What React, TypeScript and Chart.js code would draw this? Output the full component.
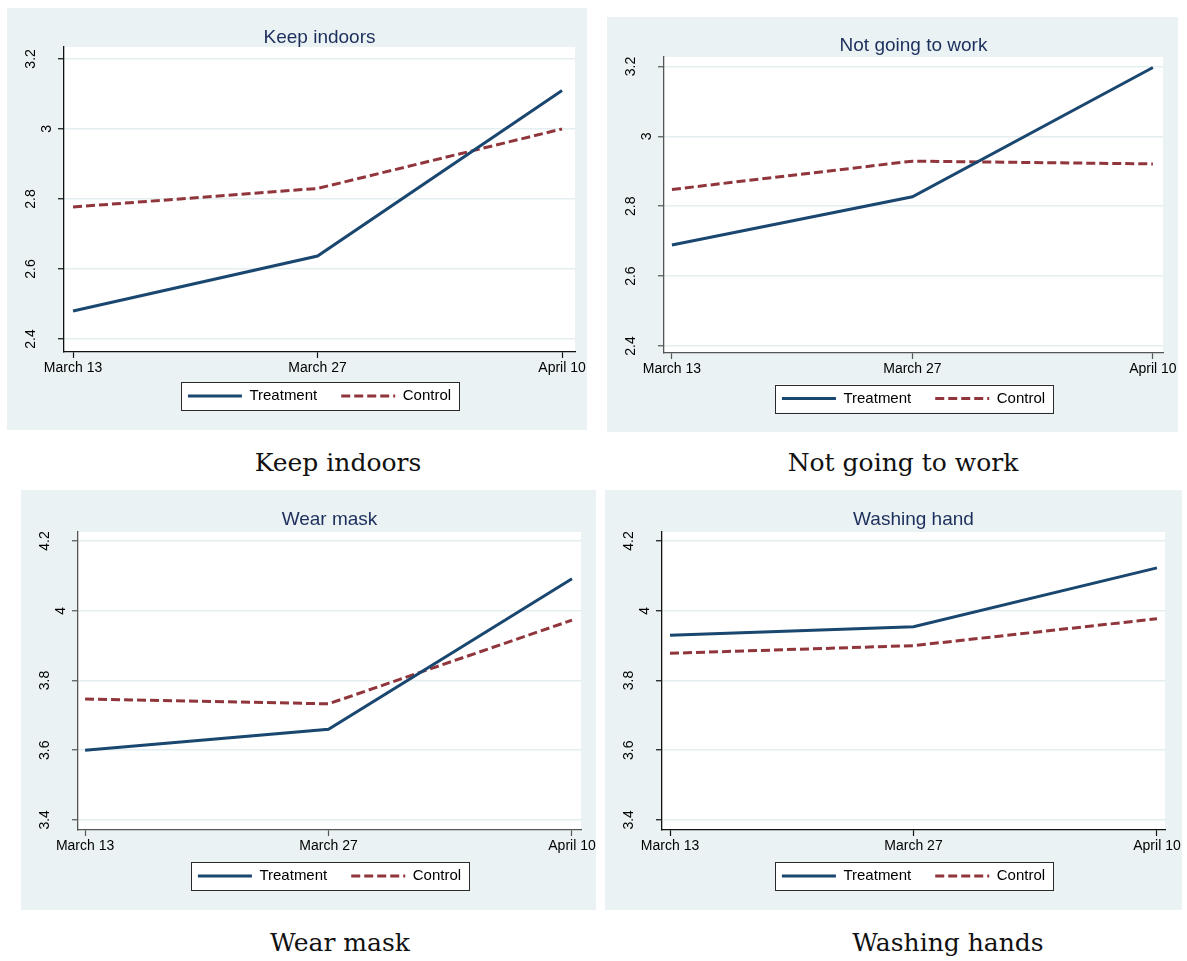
import React, { useEffect, useRef } from 'react';
import { Chart, registerables } from 'chart.js';

Chart.register(...registerables);

// ---------- data ----------
const dateLabels = ['March 13', 'March 27', 'April 10'];
const datePositions = [0, 1, 2];
const seriesNames = ['Treatment', 'Control'];

const keepIndoorsTreatment = [2.48, 2.637, 3.11];
const keepIndoorsControl = [2.777, 2.83, 3.0];
const notWorkTreatment = [2.689, 2.827, 3.197];
const notWorkControl = [2.848, 2.929, 2.921];
const wearMaskTreatment = [3.6, 3.66, 4.092];
const wearMaskControl = [3.747, 3.733, 3.973];
const washHandTreatment = [3.93, 3.954, 4.123];
const washHandControl = [3.878, 3.9, 3.977];

const yTicksUpper = [2.4, 2.6, 2.8, 3.0, 3.2];
const yTickLabelsUpper = ['2.4', '2.6', '2.8', '3', '3.2'];
const yTicksLower = [3.4, 3.6, 3.8, 4.0, 4.2];
const yTickLabelsLower = ['3.4', '3.6', '3.8', '4', '4.2'];

const panelTitles = ['Keep indoors', 'Not going to work', 'Wear mask', 'Washing hand'];
const captionTexts = ['Keep indoors', 'Not going to work', 'Wear mask', 'Washing hands'];

// ---------- styles ----------
const NAVY = '#1a476f';
const MAROON = '#90353b';
const PANEL_BG = '#eaf2f3';
const GRID = '#e4edef';
const TITLE_COLOR = '#1c2f5c';
const SANS = '"Liberation Sans", Arial, sans-serif';
const SERIF = '"DejaVu Serif", serif';
const TITLE_SIZE = 19;
const TICK_SIZE = 14;
const LEGEND_SIZE = 15;
const LEGEND_PAD = 24;
const XAXIS_H = 26;

type Layout = {
  bg: { x: number; y: number; w: number; h: number };
  extraRight: number;
  plot: { l: number; t: number; r: number; b: number };
  titleY: number;
  legendY: number;
  xRange: [number, number];
  yRange: [number, number];
  axisColor: string;
  caption: { x: number; y: number };
};

const layouts: Layout[] = [
  {
    bg: { x: 7, y: 8, w: 580, h: 422 }, extraRight: 10,
    plot: { l: 64, t: 47, r: 575, b: 352 }, titleY: 37.5, legendY: 396,
    xRange: [-0.037, 2.053], yRange: [2.363, 3.234], axisColor: '#111',
    caption: { x: 338, y: 462 },
  },
  {
    bg: { x: 607, y: 17, w: 571, h: 415 }, extraRight: 9,
    plot: { l: 664, t: 57, r: 1163, b: 353 }, titleY: 45.5, legendY: 398.5,
    xRange: [-0.033, 2.042], yRange: [2.38, 3.227], axisColor: '#555',
    caption: { x: 903, y: 462 },
  },
  {
    bg: { x: 21, y: 490, w: 575, h: 420 }, extraRight: 10,
    plot: { l: 78, t: 532, r: 581, b: 830 }, titleY: 519.5, legendY: 876,
    xRange: [-0.029, 2.037], yRange: [3.371, 4.226], axisColor: '#555',
    caption: { x: 340, y: 942 },
  },
  {
    bg: { x: 605, y: 490, w: 577, h: 420 }, extraRight: 5,
    plot: { l: 662, t: 532, r: 1165, b: 830 }, titleY: 519.5, legendY: 876,
    xRange: [-0.033, 2.033], yRange: [3.371, 4.226], axisColor: '#111',
    caption: { x: 948, y: 942 },
  },
];

type PanelData = {
  title: string;
  treatment: number[];
  control: number[];
  yTicks: number[];
  yTickLabels: string[];
};

const panelData: PanelData[] = [
  { title: panelTitles[0], treatment: keepIndoorsTreatment, control: keepIndoorsControl, yTicks: yTicksUpper, yTickLabels: yTickLabelsUpper },
  { title: panelTitles[1], treatment: notWorkTreatment, control: notWorkControl, yTicks: yTicksUpper, yTickLabels: yTickLabelsUpper },
  { title: panelTitles[2], treatment: wearMaskTreatment, control: wearMaskControl, yTicks: yTicksLower, yTickLabels: yTickLabelsLower },
  { title: panelTitles[3], treatment: washHandTreatment, control: washHandControl, yTicks: yTicksLower, yTickLabels: yTickLabelsLower },
];

function Panel({ data, layout }: { data: PanelData; layout: Layout }) {
  const ref = useRef<HTMLCanvasElement | null>(null);
  const L = layout;
  const cw = L.bg.w + L.extraRight;
  const ch = L.bg.h;

  useEffect(() => {
    if (!ref.current) return;
    const plotL = L.plot.l - L.bg.x;
    const plotR = L.plot.r - L.bg.x;
    const plotT = L.plot.t - L.bg.y;
    const plotB = L.plot.b - L.bg.y;
    const titleY = L.titleY - L.bg.y;
    const legY = L.legendY - L.bg.y;
    const titleLH = TITLE_SIZE * 1.2;
    const legendTop = legY - LEGEND_SIZE / 2 - LEGEND_PAD;
    const legendHeight = LEGEND_SIZE + LEGEND_PAD + 10;

    const panelPlugin = {
      id: 'panelDecor',
      afterLayout(chart: any) {
        const lg = chart.legend;
        if (lg) {
          const h = lg.height;
          lg.top = legendTop;
          lg.bottom = legendTop + h;
        }
      },
      beforeDraw(chart: any) {
        const ctx = chart.ctx;
        const ca = chart.chartArea;
        ctx.save();
        ctx.fillStyle = PANEL_BG;
        ctx.fillRect(0, 0, L.bg.w, L.bg.h);
        ctx.fillStyle = '#ffffff';
        ctx.fillRect(ca.left, ca.top, ca.right - ca.left, ca.bottom - ca.top);
        const hb = chart.legend && chart.legend.legendHitBoxes;
        if (hb && hb.length) {
          const first = hb[0];
          const last = hb[hb.length - 1];
          const left = first.left - 7;
          const right = last.left + last.width + 8;
          const cy = legY;
          const top = cy - 14;
          ctx.fillStyle = '#ffffff';
          ctx.fillRect(left, top, right - left, 28);
          ctx.strokeStyle = '#2a2a2a';
          ctx.lineWidth = 1;
          ctx.strokeRect(Math.round(left) + 0.5, Math.round(top) + 0.5, Math.round(right - left), 28);
        }
        ctx.restore();
      },
      afterDraw(chart: any) {
        const ctx = chart.ctx;
        const ys = chart.scales.y;
        ctx.save();
        ctx.font = `${TICK_SIZE}px ${SANS}`;
        ctx.fillStyle = '#000';
        ctx.textAlign = 'center';
        ctx.textBaseline = 'middle';
        ys.ticks.forEach((t: any, i: number) => {
          const label = data.yTickLabels[i];
          const w = ctx.measureText(label).width;
          const py = ys.getPixelForValue(t.value);
          const cx = chart.chartArea.left - 6 - 1.37 * w;
          ctx.save();
          ctx.translate(cx, py);
          ctx.rotate(-Math.PI / 2);
          ctx.fillText(label, 0, 0);
          ctx.restore();
        });
        ctx.restore();
      },
    };

    const chart = new Chart(ref.current, {
      type: 'line',
      data: {
        datasets: [
          {
            label: seriesNames[0],
            data: datePositions.map((x, i) => ({ x, y: data.treatment[i] })),
            borderColor: NAVY,
            backgroundColor: NAVY,
            borderWidth: 3,
            pointRadius: 0,
            tension: 0,
            fill: false,
          },
          {
            label: seriesNames[1],
            data: datePositions.map((x, i) => ({ x, y: data.control[i] })),
            borderColor: MAROON,
            backgroundColor: MAROON,
            borderWidth: 3,
            borderDash: [9, 4],
            pointRadius: 0,
            tension: 0,
            fill: false,
          },
        ],
      },
      options: {
        animation: false,
        responsive: false,
        maintainAspectRatio: false,
        events: [],
        layout: {
          padding: {
            left: 0,
            right: cw - plotR,
            top: titleY - titleLH / 2,
            bottom: ch - (plotB + XAXIS_H + legendHeight),
          },
        },
        plugins: {
          title: {
            display: true,
            text: data.title,
            fullSize: false,
            color: TITLE_COLOR,
            font: { family: SANS, size: TITLE_SIZE, weight: 'normal', lineHeight: 1.2 },
            padding: { top: 0, bottom: plotT - titleY - titleLH / 2 },
          },
          legend: {
            position: 'bottom',
            fullSize: false,
            labels: {
              usePointStyle: true,
              pointStyleWidth: 54,
              padding: LEGEND_PAD,
              color: '#000',
              font: { family: SANS, size: LEGEND_SIZE },
              generateLabels: (c: any) =>
                c.data.datasets.map((ds: any, i: number) => ({
                  text: ds.label,
                  strokeStyle: ds.borderColor,
                  fillStyle: ds.borderColor,
                  lineWidth: 3,
                  lineDash: ds.borderDash || [],
                  lineCap: 'butt',
                  pointStyle: 'line',
                  hidden: false,
                  datasetIndex: i,
                })),
            },
          },
          tooltip: { enabled: false },
        },
        scales: {
          x: {
            type: 'linear',
            position: 'bottom',
            min: L.xRange[0],
            max: L.xRange[1],
            afterBuildTicks: (s: any) => {
              s.ticks = datePositions.map((v) => ({ value: v }));
            },
            afterFit: (s: any) => {
              s.height = XAXIS_H;
            },
            ticks: {
              callback: (v: any) => dateLabels[datePositions.indexOf(Number(v))],
              color: '#000',
              font: { family: SANS, size: TICK_SIZE },
              padding: 2,
              maxRotation: 0,
              minRotation: 0,
              autoSkip: false,
            },
            grid: {
              display: true,
              drawOnChartArea: false,
              drawTicks: true,
              tickLength: 6,
              tickColor: L.axisColor,
              tickWidth: 1.2,
            },
            border: { display: true, color: L.axisColor, width: 1.3 },
          },
          y: {
            type: 'linear',
            position: 'left',
            min: L.yRange[0],
            max: L.yRange[1],
            afterBuildTicks: (s: any) => {
              s.ticks = data.yTicks.map((v) => ({ value: v }));
            },
            afterFit: (s: any) => {
              s.width = plotL;
            },
            ticks: { display: false },
            grid: {
              display: true,
              drawOnChartArea: true,
              color: GRID,
              lineWidth: 1.5,
              drawTicks: true,
              tickLength: 6,
              tickColor: L.axisColor,
              tickWidth: 1.2,
            },
            border: { display: true, color: L.axisColor, width: 1.3 },
          },
        },
      } as any,
      plugins: [panelPlugin as any],
    });
    return () => chart.destroy();
  }, []);

  return (
    <canvas
      ref={ref}
      width={cw}
      height={ch}
      style={{ position: 'absolute', left: L.bg.x, top: L.bg.y, width: cw, height: ch }}
    />
  );
}

export default function App() {
  return (
    <div
      style={{
        position: 'fixed',
        left: 0,
        top: 0,
        width: 1187,
        height: 961,
        background: '#ffffff',
        overflow: 'hidden',
      }}
    >
      {panelData.map((d, i) => (
        <Panel key={i} data={d} layout={layouts[i]} />
      ))}
      {captionTexts.map((t, i) => (
        <div
          key={'c' + i}
          style={{
            position: 'absolute',
            left: layouts[i].caption.x,
            top: layouts[i].caption.y,
            transform: 'translate(-50%, -50%)',
            fontFamily: SERIF,
            fontSize: 25,
            lineHeight: 1,
            color: '#111',
            whiteSpace: 'nowrap',
          }}
        >
          {t}
        </div>
      ))}
    </div>
  );
}
